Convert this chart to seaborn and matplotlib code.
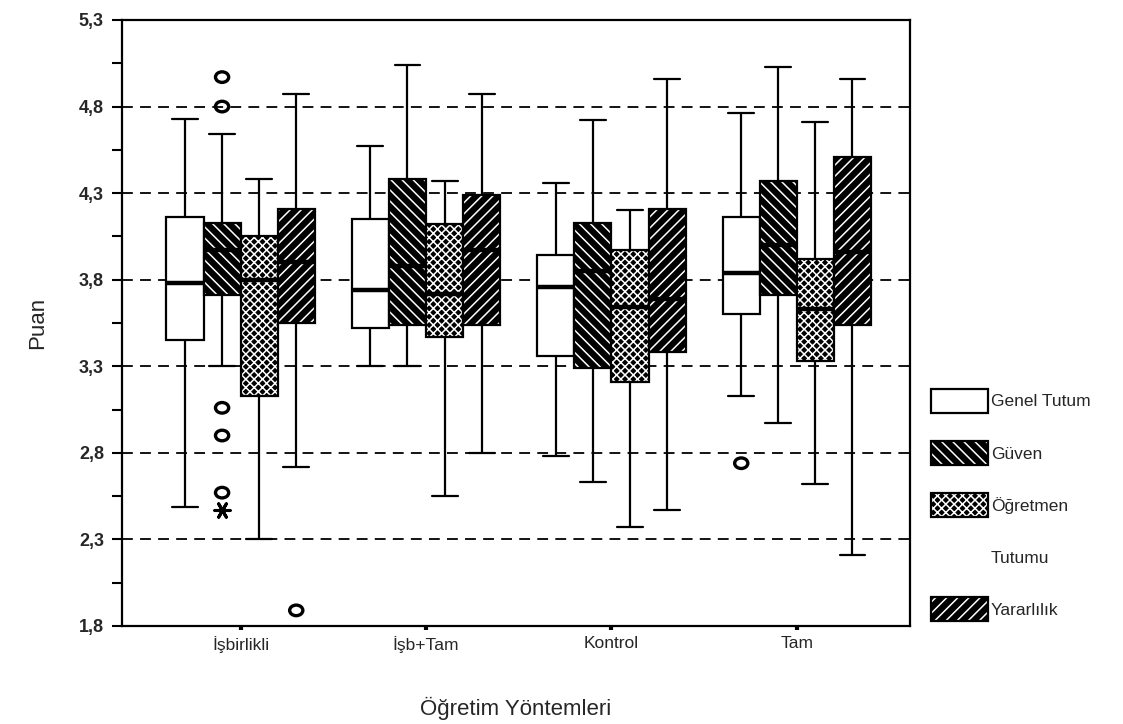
import numpy as np
import pandas as pd
import matplotlib
matplotlib.use('Agg')
import matplotlib.pyplot as plt
import matplotlib.colors as mcolors
from matplotlib.patches import Patch
from matplotlib.path import Path
from matplotlib.transforms import Affine2D
import seaborn as sns

# ---------------- data ----------------
groups = ['İşbirlikli', 'İşb+Tam', 'Kontrol', 'Tam']
measures = ['Genel Tutum', 'Güven', 'Öğretmen Tutumu', 'Yararlılık']

# five-number summaries per group: (lower whisker, Q1, median, Q3, upper whisker)
genel_tutum = [(2.49, 3.45, 3.78, 4.16, 4.73),
               (3.30, 3.52, 3.74, 4.15, 4.57),
               (2.78, 3.36, 3.76, 3.94, 4.36),
               (3.13, 3.60, 3.84, 4.16, 4.76)]
guven = [(3.30, 3.71, 3.97, 4.13, 4.64),
         (3.30, 3.54, 3.88, 4.38, 5.04),
         (2.63, 3.29, 3.85, 4.13, 4.72),
         (2.97, 3.71, 4.00, 4.37, 5.03)]
ogretmen_tutumu = [(2.30, 3.13, 3.80, 4.05, 4.38),
                   (2.55, 3.47, 3.72, 4.12, 4.37),
                   (2.37, 3.21, 3.64, 3.97, 4.20),
                   (2.62, 3.33, 3.63, 3.92, 4.71)]
yararlilik = [(2.72, 3.55, 3.90, 4.21, 4.87),
              (2.80, 3.54, 3.97, 4.29, 4.87),
              (2.47, 3.38, 3.69, 4.21, 4.96),
              (2.21, 3.54, 3.96, 4.51, 4.96)]

# outliers (circles) and extreme value (asterisk)
outlier_group = ['İşbirlikli'] * 6 + ['Tam']
outlier_measure = ['Güven'] * 5 + ['Yararlılık', 'Genel Tutum']
outlier_value = [4.97, 4.80, 3.06, 2.90, 2.57, 1.89, 2.74]
extreme_group = ['İşbirlikli']
extreme_measure = ['Güven']
extreme_value = [2.47]

y_ticks = [1.8, 2.3, 2.8, 3.3, 3.8, 4.3, 4.8, 5.3]
y_ticklabels = ['1,8', '2,3', '2,8', '3,3', '3,8', '4,3', '4,8', '5,3']
y_minor = [2.05, 2.55, 3.05, 3.55, 4.05, 4.55, 5.05]

# ---------------- build tables ----------------
rows = []
for m, summ in zip(measures, [genel_tutum, guven, ogretmen_tutumu, yararlilik]):
    for g, five in zip(groups, summ):
        for v in five:
            rows.append((g, m, v))
df = pd.DataFrame(rows, columns=['grup', 'olcek', 'puan'])
out_df = pd.DataFrame({'grup': outlier_group, 'olcek': outlier_measure, 'puan': outlier_value})
ext_df = pd.DataFrame({'grup': extreme_group, 'olcek': extreme_measure, 'puan': extreme_value})

# ---------------- style ----------------
sns.set_theme(style='white')
plt.rcParams['font.family'] = ['Liberation Sans', 'DejaVu Sans']
plt.rcParams['hatch.linewidth'] = 1.1

palette = {'Genel Tutum': 'white', 'Güven': 'black',
           'Öğretmen Tutumu': 'black', 'Yararlılık': 'black'}
black_pal = {m: 'black' for m in measures}
hatches = [None, '\\\\\\', 'xxxx', '///']

fig = plt.figure(figsize=(11.23, 7.24), dpi=100)
ax = fig.add_axes([0.1086, 0.1354, 0.7017, 0.837])

sns.boxplot(data=df, x='grup', y='puan', hue='olcek', order=groups, hue_order=measures,
            palette=palette, saturation=1, width=0.8, gap=0, whis=(0, 100),
            linecolor='black', linewidth=1.6,
            medianprops=dict(linewidth=3.2, color='black'),
            legend=False, ax=ax)


def set_hatch_white(p):
    try:
        p.set_hatchcolor('white')
    except AttributeError:
        p._hatch_color = mcolors.to_rgba('white')


for p in ax.patches:
    ext = p.get_path().get_extents()
    xc = (ext.x0 + ext.x1) / 2
    k = int(round((xc - round(xc) + 0.3) / 0.2))
    k = min(max(k, 0), 3)
    if hatches[k]:
        p.set_hatch(hatches[k])
        set_hatch_white(p)

# widen caps to ~70% of box width
for ln in ax.lines:
    x = np.asarray(ln.get_xdata(), float)
    y = np.asarray(ln.get_ydata(), float)
    if len(x) == 2 and y[0] == y[1] and 0 < abs(x[1] - x[0]) < 0.15:
        c = x.mean()
        ln.set_xdata([c - 0.07, c + 0.07])

ellipse = Path.unit_circle().transformed(Affine2D().scale(1.25, 1.0))
n0 = len(ax.collections)
sns.stripplot(data=out_df, x='grup', y='puan', hue='olcek', order=groups, hue_order=measures,
              palette=black_pal, dodge=True, jitter=False, marker=ellipse, size=9.5,
              linewidth=2.4, legend=False, ax=ax)
n1 = len(ax.collections)
sns.stripplot(data=ext_df, x='grup', y='puan', hue='olcek', order=groups, hue_order=measures,
              palette=black_pal, dodge=True, jitter=False, marker=(6, 2, 90), size=11,
              linewidth=2.2, legend=False, ax=ax)
for i, col in enumerate(ax.collections[n0:]):
    col.set_edgecolor('black')
    col.set_linewidth(2.4 if i < n1 - n0 else 2.2)
    if i < n1 - n0:
        col.set_facecolor('none')
    col.set_zorder(5)

# ---------------- axes ----------------
ax.set_ylim(1.8, 5.3)
ax.set_xlim(-0.64, 3.61)
ax.set_yticks(y_ticks)
ax.set_yticklabels(y_ticklabels, fontweight='bold')
ax.set_yticks(y_minor, minor=True)
ax.tick_params(axis='y', which='both', direction='out', length=7, width=1.5,
               labelsize=13, pad=6, left=True, color='black')
ax.set_xticks(range(len(groups)))
ax.set_xticklabels(groups)
ax.tick_params(axis='x', direction='out', length=3, width=3, labelsize=12.5, pad=4,
               bottom=True, color='black')
ax.yaxis.grid(True, which='major', linestyle=(0, (6, 4)), color='black', linewidth=1.3)
ax.xaxis.grid(False)
ax.set_axisbelow(True)
for s in ax.spines.values():
    s.set_visible(True)
    s.set_color('black')
    s.set_linewidth(1.6)

ax.set_xlabel('Öğretim Yöntemleri', fontsize=16, labelpad=32)
ax.set_ylabel('Puan', fontsize=16, labelpad=22)

# ---------------- legend ----------------
handles = [Patch(facecolor='white', edgecolor='black', linewidth=1.6),
           Patch(facecolor='black', edgecolor='black', hatch='\\\\\\', linewidth=1.6),
           Patch(facecolor='black', edgecolor='black', hatch='xxxx', linewidth=1.6),
           Patch(facecolor='none', edgecolor='none'),
           Patch(facecolor='black', edgecolor='black', hatch='///', linewidth=1.6)]
labels = ['Genel Tutum', 'Güven', 'Öğretmen', 'Tutumu', 'Yararlılık']
leg = fig.legend(handles, labels, loc='upper left', bbox_to_anchor=(0.829, 0.463),
                 frameon=False, fontsize=12.5, handlelength=3.3, handleheight=1.75,
                 handletextpad=0.15, labelspacing=1.62, borderpad=0, borderaxespad=0)
for p in leg.get_patches():
    if p.get_hatch():
        set_hatch_white(p)

fig.savefig('out.png', dpi=100)
